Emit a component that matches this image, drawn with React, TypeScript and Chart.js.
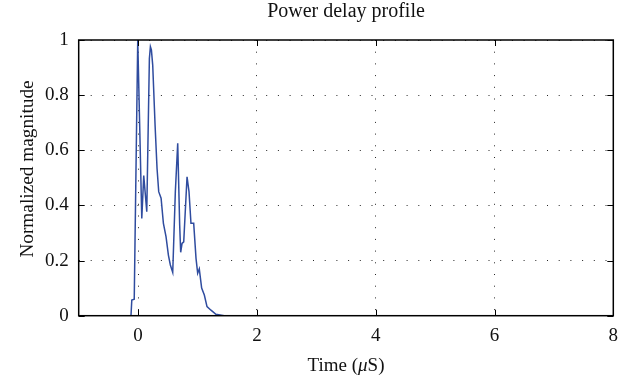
import React, { useEffect, useRef } from "react";
import { Chart, registerables } from "chart.js";

Chart.register(...registerables);

const chartTitle = "Power delay profile";
const xTitleParts = ["Time (", "\u03bc", "S)"];
const yTitle = "Normalized magnitude";

const timeUs = [
  -0.76, -0.12, -0.106, -0.065, -0.006, 0.062, 0.095, 0.146, 0.19, 0.207, 0.224,
  0.246, 0.286, 0.319, 0.347, 0.387, 0.426, 0.47, 0.51, 0.543, 0.583, 0.627,
  0.667, 0.7, 0.717, 0.74, 0.768, 0.824, 0.857, 0.89, 0.936, 0.975, 1.003, 1.03,
  1.07, 1.115, 1.16, 1.227, 1.31, 1.45, 7.81,
];
const magnitude = [
  0, 0, 0.057, 0.06, 1.0, 0.353, 0.508, 0.377, 0.933, 0.976, 0.964,
  0.909, 0.69, 0.534, 0.45, 0.426, 0.335, 0.287, 0.22, 0.184, 0.157, 0.45,
  0.625, 0.329, 0.23, 0.262, 0.268, 0.504, 0.45, 0.335, 0.335, 0.208, 0.154, 0.17,
  0.1, 0.075, 0.033, 0.02, 0.005, 0, 0,
];
const xTickValues = [0, 2, 4, 6, 8];
const yTickValues = [0, 0.2, 0.4, 0.6, 0.8, 1];
const xRange = [-1, 8];
const yRange = [0, 1];

const FONT = '"Liberation Serif", "DejaVu Serif", serif';

const decorPlugin = {
  id: "decor",
  afterDraw(chart: any) {
    const { ctx, chartArea } = chart;
    const { left, right, top, bottom } = chartArea;
    const xs = chart.scales.x;
    const ys = chart.scales.y;
    ctx.save();
    ctx.strokeStyle = "#000";
    ctx.lineWidth = 1;
    const tl = 6;
    ctx.beginPath();
    xTickValues.forEach((v) => {
      const px = Math.round(xs.getPixelForValue(v)) + 0.5;
      ctx.moveTo(px, bottom);
      ctx.lineTo(px, bottom - tl);
      ctx.moveTo(px, top);
      ctx.lineTo(px, top + tl);
    });
    yTickValues.forEach((v) => {
      const py = Math.round(ys.getPixelForValue(v)) + 0.5;
      ctx.moveTo(left, py);
      ctx.lineTo(left + tl, py);
      ctx.moveTo(right, py);
      ctx.lineTo(right - tl, py);
    });
    ctx.stroke();
    ctx.lineWidth = 1.5;
    ctx.strokeRect(left, top, right - left, bottom - top);

    ctx.fillStyle = "#111";
    ctx.textBaseline = "alphabetic";
    const cx = (left + right) / 2;
    ctx.font = `20px ${FONT}`;
    ctx.textAlign = "center";
    ctx.fillText(chartTitle, cx, 17);

    const fonts = [`19px ${FONT}`, `italic 19px ${FONT}`, `19px ${FONT}`];
    const widths = xTitleParts.map((p, i) => {
      ctx.font = fonts[i];
      return ctx.measureText(p).width;
    });
    const total = widths.reduce((a, b) => a + b, 0);
    let x0 = cx - total / 2;
    ctx.textAlign = "left";
    xTitleParts.forEach((p, i) => {
      ctx.font = fonts[i];
      ctx.fillText(p, x0, 371);
      x0 += widths[i];
    });

    ctx.font = `19.3px ${FONT}`;
    ctx.textAlign = "center";
    ctx.translate(33, 169);
    ctx.rotate(-Math.PI / 2);
    ctx.fillText(yTitle, 0, 0);
    ctx.restore();
  },
};

export default function App() {
  const ref = useRef<HTMLCanvasElement | null>(null);
  useEffect(() => {
    document.body.style.margin = "0";
    const canvas = ref.current!;
    const chart = new Chart(canvas, {
      type: "line",
      data: {
        datasets: [
          {
            data: timeUs.map((t, i) => ({ x: t, y: magnitude[i] })),
            borderColor: "#2f4c9f",
            borderWidth: 1.5,
            pointRadius: 0,
            tension: 0,
            fill: false,
          },
        ],
      },
      options: {
        animation: false,
        responsive: false,
        devicePixelRatio: 1,
        layout: { padding: { top: 40, left: 0, right: 15.7, bottom: 0 } },
        plugins: {
          legend: { display: false },
          title: { display: false },
          tooltip: { enabled: false },
        },
        scales: {
          x: {
            type: "linear",
            min: xRange[0],
            max: xRange[1],
            afterBuildTicks: (s: any) => {
              s.ticks = xTickValues.map((v) => ({ value: v }));
            },
            afterFit: (s: any) => {
              s.height = 62.3;
            },
            ticks: {
              font: { family: FONT, size: 19 },
              color: "#111",
              padding: 9,
              maxRotation: 0,
              callback: (v: any) => String(v),
            },
            grid: { color: "rgba(0,0,0,0.85)", lineWidth: 1, drawTicks: false },
            border: { display: false, dash: [1, 10.7] },
          },
          y: {
            type: "linear",
            min: yRange[0],
            max: yRange[1],
            afterBuildTicks: (s: any) => {
              s.ticks = yTickValues.map((v) => ({ value: v }));
            },
            afterFit: (s: any) => {
              s.width = 78.7;
            },
            ticks: {
              font: { family: FONT, size: 19 },
              color: "#111",
              padding: 10,
              callback: (v: any) => String(Math.round(v * 10) / 10),
            },
            grid: { color: "rgba(0,0,0,0.85)", lineWidth: 1, drawTicks: false },
            border: { display: false, dash: [1, 10.7] },
          },
        },
      },
      plugins: [decorPlugin],
    });
    return () => chart.destroy();
  }, []);
  return (
    <div style={{ width: 629, height: 378 }}>
      <canvas ref={ref} width={629} height={378} style={{ display: "block" }} />
    </div>
  );
}
